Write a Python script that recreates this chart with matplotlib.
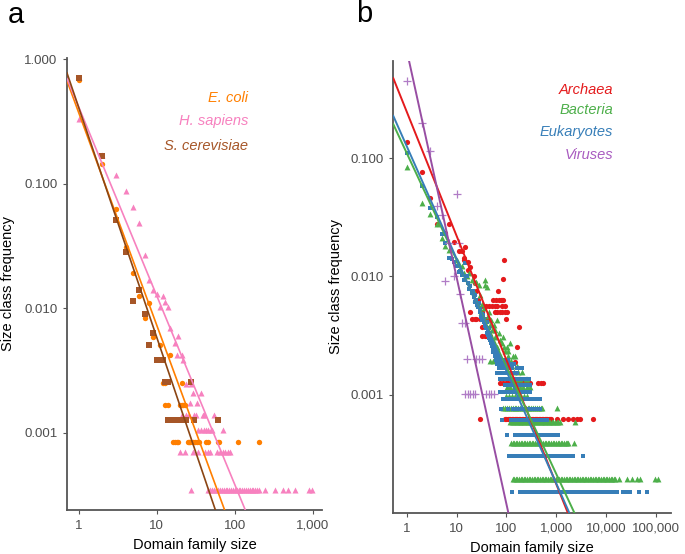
import numpy as np
import matplotlib
matplotlib.use("Agg")
import matplotlib.pyplot as plt
from matplotlib.ticker import FixedLocator, NullLocator, FixedFormatter

plt.rcParams['font.family'] = ['Liberation Sans', 'DejaVu Sans']

# ------------------------------------------------------------------
# Panel a : size-class counts per genome  (count -> list of family sizes)
# ------------------------------------------------------------------
ecoli_total = 1190
ecoli_rows = {
    804: [1], 172: [2], 74: [3], 37: [4], 23: [5], 15: [6], 13: [8], 10: [7],
    7: [9], 6: [11], 5: [15], 3: [12, 13, 21], 2: [13, 14, 20, 21, 22, 23],
    1: [16, 17, 18, 19, 25, 26, 27, 29, 31, 33, 35, 43, 46, 61, 64, 112, 203],
}
hsap_total = 2860
hsap_rows = {
    946: [1], 489: [2], 338: [3], 250: [4], 185: [5], 139: [6], 77: [7],
    48: [8], 40: [9], 37: [10], 36: [12], 32: [13], 29: [11, 14], 20: [15],
    17: [19], 15: [17], 12: [18, 21], 11: [22], 7: [24, 28], 6: [29, 37],
    5: [27, 33], 4: [21, 24, 26, 30, 32, 39, 40, 55],
    3: [34, 37, 40, 43, 46, 50, 52, 71],
    2: [20, 23, 29, 34, 42, 45, 48, 60, 65, 70, 76, 82, 88],
    1: [28, 46, 49, 52, 55, 58, 61, 65, 69, 73, 77, 81, 86, 91, 96, 101, 107,
        113, 119, 126, 133, 140, 148, 156, 165, 174, 184, 194, 203, 248, 331,
        415, 490, 600, 890, 980],
}
scer_total = 785
scer_rows = {
    556: [1], 130: [2], 40: [3], 22: [4], 11: [6], 9: [5], 7: [7], 5: [9],
    4: [8], 3: [10, 11, 12], 2: [13, 14, 28],
    1: [14, 15, 16, 17, 18, 19, 20, 21, 22, 23, 24, 30, 62],
}
# power-law fits: log10(freq) = intercept + slope * log10(size)
fit_a = {
    'E. coli': (-0.428, -1.705),
    'H. sapiens': (-0.382, -1.515),
    'S. cerevisiae': (-0.386, -1.844),
}

# ------------------------------------------------------------------
# Panel b : superkingdoms
# ------------------------------------------------------------------
arch_total = 1590
arch_rows = {
    217: [1], 121: [2], 74: [3], 44: [4, 7], 37: [6], 31: [9], 28: [15],
    26: [11, 13], 23: [14], 22: [14, 90], 21: [17], 19: [19], 18: [17],
    16: [22], 15: [86], 14: [23], 12: [25, 69],
    10: [27, 55, 62, 70, 78, 81, 87], 9: [34, 39, 45, 52, 60, 64, 81, 94],
    8: [19, 32, 59, 66, 74, 83, 92, 102],
    7: [20, 23, 25, 29, 34, 40, 43, 98], 6: [32, 182], 5: [32, 37, 40, 47],
    4: [162], 3: [150],
    2: [75, 85, 98, 110, 125, 140, 160, 180, 200, 219, 240, 265, 299, 439,
        490, 553],
    1: [30, 94, 100, 106, 113, 120, 128, 137, 146, 156, 167, 178, 190, 203,
        217, 232, 248, 265, 283, 302, 322, 344, 368, 393, 420, 449, 480, 513,
        548, 585, 625, 668, 714, 755, 800, 1030, 1400, 1700, 2150, 2600, 3020,
        5600],
}
bact_total = 5150
bact_rows = {
    437: [1], 215: [2], 175: [3], 144: [4], 110: [5], 94: [6], 86: [7],
    71: [10], 66: [11], 63: [13], 60: [12], 55: [14, 18], 52: [16],
    48: [20, 38], 46: [25], 44: [28, 37], 42: [40], 38: [22], 36: [30],
    33: [24], 30: [27, 33], 28: [35], 26: [31, 45], 24: [42], 22: [50, 64],
    20: [48, 56], 18: [52, 60], 17: [70], 16: [58, 87], 15: [75],
    14: [80, 119], 13: [66, 90, 102], 12: [95, 106], 11: [110, 138, 150],
    10: [47, 53, 115, 125], 9: [100, 130, 160], 8: [120, 140, 170, 203],
    7: [135, 150, 180, 190, 249, 258],
    6: [102, 120, 140, 160, 190, 220, 260, 300],
    5: [100, 115, 130, 150, 175, 200, 230, 260],
    4: [87, 95, 104, 113, 123, 134, 146, 159, 173, 189, 206, 224, 244, 266,
        290, 316, 344, 375, 408, 445, 485, 514, 1030],
    3: [119, 128, 138, 149, 160, 172, 185, 199, 215, 231, 249, 268, 289, 311,
        335, 361, 389, 419, 451, 486, 523, 563, 607, 654, 704, 758, 816, 880,
        950, 1030, 1110, 1197, 2397],
    2: [123, 133, 143, 154, 166, 179, 193, 208, 224, 241, 260, 280, 302, 325,
        350, 377, 406, 437, 471, 507, 546, 588, 634, 683, 735, 792, 853, 919,
        990, 1066, 1148, 1237, 1332, 1435, 1546, 1665, 1758, 2330],
    1: [134, 144, 155, 167, 180, 194, 209, 225, 242, 261, 281, 303, 326, 351,
        378, 407, 438, 472, 508, 547, 589, 634, 683, 736, 792, 853, 919, 990,
        1066, 1148, 1237, 1332, 1435, 1546, 1665, 1793, 1931, 2080, 2240,
        2413, 2599, 2800, 3016, 3249, 3500, 3770, 4061, 4375, 4713, 5077,
        5469, 5891, 6346, 6836, 7364, 7932, 8545, 9205, 9915, 10680, 11505,
        12393, 13350, 14380, 15200, 18600, 26200, 33000, 41500, 48400, 96800,
        112800],
}
euk_total = 6580
euk_rows = {
    734: [1], 382: [2], 248: [3], 211: [4], 151: [5], 126: [6], 94: [7],
    92: [8], 88: [9], 85: [15], 80: [10], 73: [12], 72: [11], 68: [13],
    66: [16], 62: [14], 58: [17], 55: [19], 52: [18], 50: [21], 48: [20],
    46: [23], 44: [22], 42: [25], 40: [24], 39: [28], 38: [26], 36: [27],
    35: [30], 33: [29], 32: [32], 31: [34], 30: [31], 29: [36], 28: [33],
    27: [35, 40], 26: [38], 25: [37], 24: [39, 44], 23: [42], 22: [41, 46],
    21: [43, 48], 20: [45, 50], 19: [47, 52], 18: [49, 54], 17: [51, 56],
    16: [53, 57, 60], 15: [55, 59, 64], 14: [58, 68], 13: [62, 70, 76, 95, 110],
    12: [66, 74, 80, 86, 105, 120, 140], 11: [72, 82, 90, 98, 110, 130, 162,
                                              185, 203],
    10: [64, 72, 78, 84, 92, 96, 105, 118, 134, 151, 162],
    9: [75, 85, 88, 94, 96, 100, 108, 122, 138, 156, 176, 199, 225, 254, 287],
    8: [94, 102, 110, 120, 130, 141, 153, 166, 180, 195, 212, 230, 250, 271,
        299],
    7: [75, 81, 88, 95, 103, 112, 121, 131, 142, 154, 167, 181, 196, 213, 231,
        250, 271, 299],
    6: [87, 94, 102, 111, 120, 130, 141, 153, 166, 180, 195, 212, 230, 250,
        271, 294, 319, 346, 375, 407, 441, 475],
    5: [77, 110, 138, 150, 163, 177, 192, 208, 226, 245, 266, 289, 313, 340,
        369, 400, 435, 475],
    4: [81, 123, 133, 144, 156, 169, 183, 198, 215, 233, 252, 273, 296, 320,
        347, 376, 407, 441, 478, 518, 561, 608, 645],
    3: [102, 150, 162, 175, 190, 205, 222, 241, 261, 282, 306, 331, 359, 389,
        421, 456, 494, 535, 580, 628, 680, 755, 818, 886, 960, 1040, 1107],
    2: [115, 125, 135, 146, 158, 171, 186, 201, 218, 236, 256, 277, 300, 325,
        352, 382, 413, 448, 485, 526, 570, 617, 669, 725, 785, 851, 922, 999,
        1082, 1173, 1271, 1377, 1492, 1617, 1752, 1898, 2057, 2220, 3500],
    1: [128, 190, 205, 221, 238, 257, 277, 298, 322, 347, 374, 403, 434, 468,
        505, 544, 587, 632, 682, 735, 792, 854, 920, 992, 1069, 1152, 1242,
        1339, 1443, 1555, 1676, 1807, 1947, 2099, 2262, 2438, 2628, 2833,
        3053, 3291, 3547, 3823, 4121, 4441, 4787, 5160, 5561, 5994, 6460,
        6963, 7505, 8089, 8719, 9397, 10128, 10917, 11766, 12682, 13669,
        14733, 15880, 16300, 22400, 26200, 30700, 45000, 68000],
}
vir_total = 990
vir_rows = {
    446: [1], 196: [2], 115: [3], 49: [10], 39: [4], 33: [5], 19: [7, 11],
    10: [9], 9: [6], 7: [12], 4: [13, 15], 2: [16, 25, 28, 32],
    1: [15, 17, 19, 21, 24, 39, 44, 50, 57],
}
fit_b = {
    'Archaea': (-0.606, -1.049),
    'Bacteria': (-0.956, -0.904),
    'Eukaryotes': (-0.898, -0.950),
    'Viruses': (-0.087, -1.917),
}

C_ECOLI, C_HSAP, C_SCER = '#FF7F00', '#F781BF', '#A65628'
C_ARCH, C_BACT, C_EUK, C_VIR = '#E41A1C', '#4DAF4A', '#377EB8', '#984EA3'


def flatten(rows, total):
    xs, ys = [], []
    for cnt, sizes in rows.items():
        for s in sizes:
            xs.append(s)
            ys.append(cnt / total)
    return np.array(xs, float), np.array(ys, float)


def style_axes(ax, xt, xl, yt, yl):
    ax.set_xscale('log')
    ax.set_yscale('log')
    for s in ('top', 'right'):
        ax.spines[s].set_visible(False)
    for s in ('left', 'bottom'):
        ax.spines[s].set_color('#555555')
        ax.spines[s].set_linewidth(1.3)
    ax.xaxis.set_major_locator(FixedLocator(xt))
    ax.xaxis.set_major_formatter(FixedFormatter(xl))
    ax.yaxis.set_major_locator(FixedLocator(yt))
    ax.yaxis.set_major_formatter(FixedFormatter(yl))
    ax.xaxis.set_minor_locator(NullLocator())
    ax.yaxis.set_minor_locator(NullLocator())
    ax.tick_params(axis='both', which='major', length=3, width=0.8,
                   color='#555555', labelcolor='#4D4D4D', labelsize=9.5,
                   pad=4)
    ax.text(0.5, -0.077, 'Domain family size', transform=ax.transAxes,
            ha='center', va='center', fontsize=10.5, color='black')


fig = plt.figure(figsize=(6.85, 5.54), dpi=100)
W, H = 685.0, 554.0

# ---------------- panel a ----------------
axa = fig.add_axes([67 / W, 1 - 510 / H, 255 / W, 452 / H])
for rows, tot, mk, col, sz in [
        (ecoli_rows, ecoli_total, 'o', C_ECOLI, 15),
        (hsap_rows, hsap_total, '^', C_HSAP, 19),
        (scer_rows, scer_total, 's', C_SCER, 13)]:
    x, y = flatten(rows, tot)
    axa.scatter(x, y, s=sz, marker=mk, color=col, linewidths=0, zorder=2)
xa_lim = (0.71, 1320)
axa.set_xlim(*xa_lim)
axa.set_ylim(0.00024, 1.02)
xx = np.array(xa_lim)
for name, col in [('E. coli', C_ECOLI), ('H. sapiens', C_HSAP),
                  ('S. cerevisiae', '#8B4513')]:
    b, m = fit_a[name]
    axa.plot(xx, 10 ** (b + m * np.log10(xx)), color=col, lw=1.2, zorder=3)
style_axes(axa, [1, 10, 100, 1000], ['1', '10', '100', '1,000'],
           [0.001, 0.01, 0.1, 1.0], ['0.001', '0.010', '0.100', '1.000'])
axa.text(-0.233, 0.5, 'Size class frequency', transform=axa.transAxes,
         rotation=90, ha='center', va='center', fontsize=10.5)
for txt, col, yy in [('E. coli', C_ECOLI, 0.912), ('H. sapiens', C_HSAP, 0.861),
                     ('S. cerevisiae', C_SCER, 0.805)]:
    axa.text(0.71, yy, txt, transform=axa.transAxes, ha='right', va='center',
             color=col, fontsize=10.5, style='italic')

# ---------------- panel b ----------------
axb = fig.add_axes([393.3 / W, 1 - 513 / H, 277.7 / W, 452.3 / H])
for rows, tot, mk, col, sz in [
        (arch_rows, arch_total, 'o', C_ARCH, 14),
        (bact_rows, bact_total, '^', C_BACT, 18),
        (euk_rows, euk_total, 's', C_EUK, 12)]:
    x, y = flatten(rows, tot)
    axb.scatter(x, y, s=sz, marker=mk, color=col, linewidths=0, zorder=2)
x, y = flatten(vir_rows, vir_total)
axb.scatter(x, y, s=34, marker='+', color='#B07CC6', linewidths=0.9, zorder=2)
xb_lim = (0.538, 202000)
axb.set_xlim(*xb_lim)
axb.set_ylim(1.0e-4, 0.668)
xx = np.array(xb_lim)
for name, col in [('Archaea', C_ARCH), ('Bacteria', C_BACT),
                  ('Eukaryotes', C_EUK), ('Viruses', C_VIR)]:
    b, m = fit_b[name]
    axb.plot(xx, 10 ** (b + m * np.log10(xx)), color=col, lw=1.4, zorder=3)
style_axes(axb, [1, 10, 100, 1000, 10000, 100000],
           ['1', '10', '100', '1,000', '10,000', '100,000'],
           [0.001, 0.01, 0.1], ['0.001', '0.010', '0.100'])
axb.text(-0.206, 0.5, 'Size class frequency', transform=axb.transAxes,
         rotation=90, ha='center', va='center', fontsize=10.5)
for txt, col, yy in [('Archaea', C_ARCH, 0.935), ('Bacteria', C_BACT, 0.890),
                     ('Eukaryotes', C_EUK, 0.843), ('Viruses', '#A95CC0', 0.792)]:
    axb.text(0.792, yy, txt, transform=axb.transAxes, ha='right', va='center',
             color=col, fontsize=10.5, style='italic')

fig.text(8 / W, 1 - 23 / H, 'a', fontsize=21, va='baseline', ha='left')
fig.text(356 / W, 1 - 22 / H, 'b', fontsize=21, va='baseline', ha='left')

fig.savefig('out.png', dpi=100)
